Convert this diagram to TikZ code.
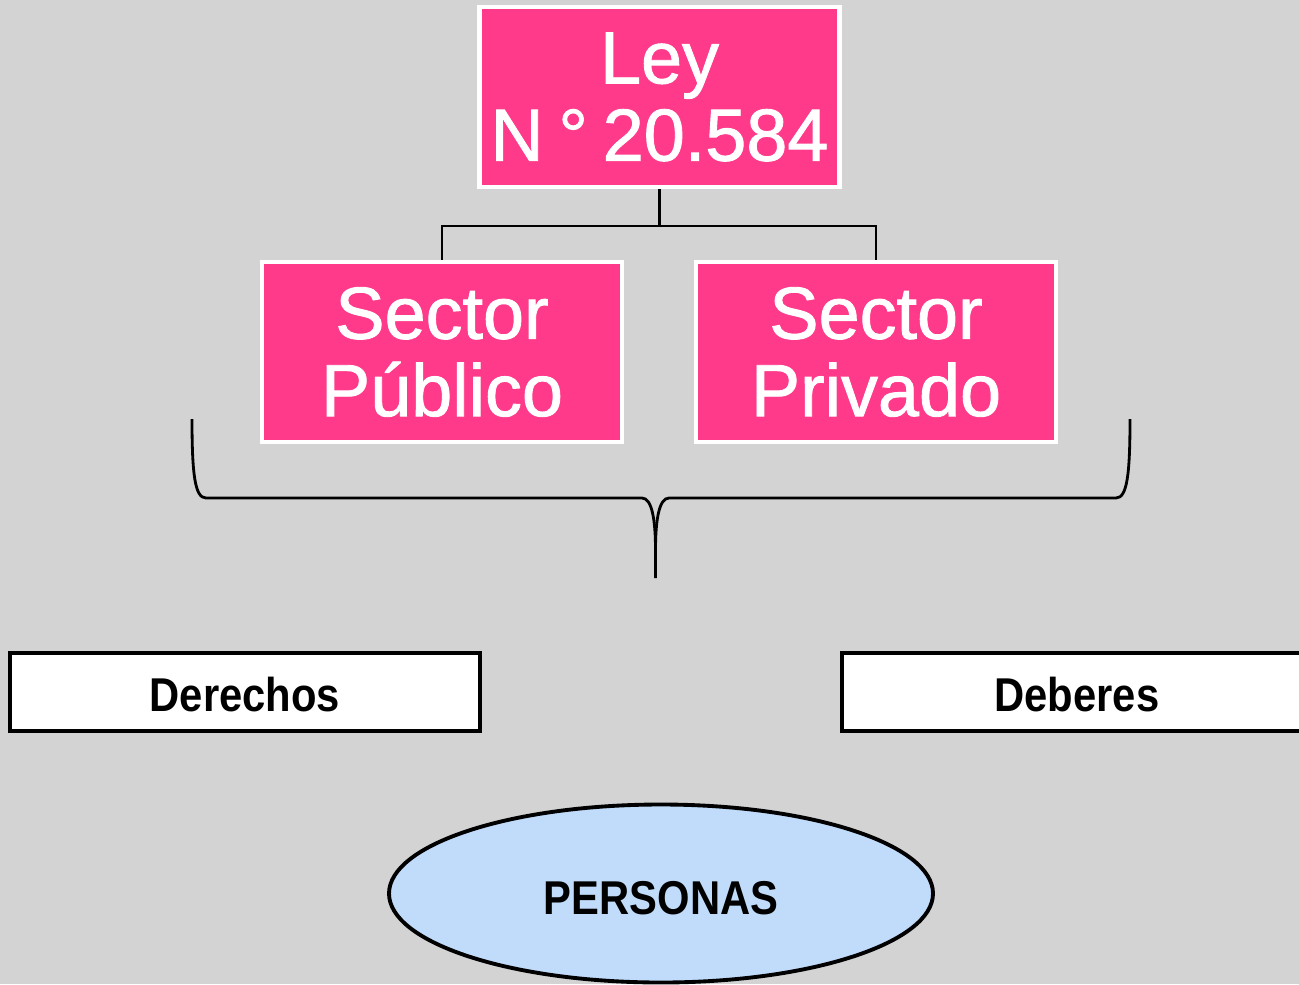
\documentclass[tikz,border=0pt]{standalone}
\usepackage{fontspec}
\setmainfont{Liberation Sans}
\newfontfamily\boxfont{Liberation Sans}[FakeBold=1.2]
\newfontfamily\narrowfont{Liberation Sans Bold}[FakeStretch=0.88]
\usetikzlibrary{shapes, positioning}
\definecolor{lawpink}{RGB}{255,58,139}
\definecolor{bggray}{RGB}{211,211,211}
\definecolor{peopleblue}{RGB}{192,220,250}

\begin{document}
\begin{tikzpicture}[
    pinkbox/.style={draw=white, line width=1.2pt, fill=lawpink, text=white, minimum width=3.6cm, minimum height=1.8cm, inner sep=0pt, align=center, font=\boxfont\fontsize{21}{22}\selectfont},
    dutybox/.style={draw=black, line width=1.1pt, fill=white, minimum width=4.7cm, minimum height=0.78cm, inner sep=0pt, text height=11pt, font=\narrowfont\fontsize{13.5}{15}\selectfont},
    branch/.style={line width=0.6pt}
  ]
      \useasboundingbox (0,0) rectangle (12.99,-9.84);
      \fill[bggray] (0,0) rectangle (12.99,-9.84);
      \clip (0,0) rectangle (12.99,-9.84);

	     % nodes %
      \node[pinkbox] (ley) at (6.595,-0.97) {Ley\\N\kern0.2em°\kern0.2em20.584};
      \node[pinkbox] (publico) at (4.42,-3.52) {Sector\\Público};
      \node[pinkbox, right of = publico, node distance=4.34cm] (privado) {Sector\\Privado};
      \node[dutybox] (derechos) at (2.45,-6.92) {Derechos};
      \node[dutybox, right of = derechos, node distance=8.32cm] (deberes) {Deberes};
      \node[ellipse, draw=black, line width=1.1pt, fill=peopleblue, minimum width=5.44cm, minimum height=1.78cm, inner sep=0pt, text height=12pt, font=\narrowfont\fontsize{13.5}{15}\selectfont] (personas) at (6.61,-8.935) {PERSONAS};

      % edges %
      \draw[branch] (ley.south) -- ++(0,-0.37) -| (publico.north);
      \draw[branch] (ley.south) -- ++(0,-0.37) -| (privado.north);

      % brace %
      \draw[line width=0.8pt]
        (1.92,-4.19) .. controls (1.92,-4.75) and (1.95,-4.98) .. (2.06,-4.98)
        -- (6.42,-4.98) .. controls (6.52,-4.98) and (6.555,-5.2) .. (6.555,-5.5)
        -- (6.555,-5.78);
      \draw[line width=0.8pt]
        (6.555,-5.5) .. controls (6.555,-5.2) and (6.59,-4.98) .. (6.69,-4.98)
        -- (11.16,-4.98) .. controls (11.27,-4.98) and (11.30,-4.75) .. (11.30,-4.19);
\end{tikzpicture}
\end{document}
